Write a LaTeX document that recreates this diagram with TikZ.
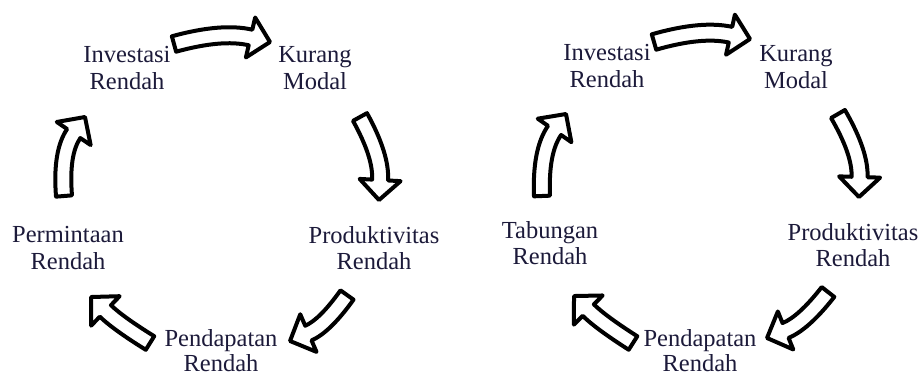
\documentclass[tikz,border=0pt]{standalone}
\usepackage{fontspec}
\setmainfont{Liberation Serif}
\usetikzlibrary{calc}
\definecolor{txt}{RGB}{28,26,58}
\tikzset{
  lbl/.style={align=center, inner sep=0pt, text=txt, font=\fontsize{24.5}{26.5}\selectfont},
  lowlbl/.style={lbl, font=\fontsize{24.5}{25}\selectfont},
  barrow/.style={draw=black, fill=white, line width=4pt, line join=round},
}
\def\aw{8}\def\ahw{20.5}\def\ahl{20}
% block arrow from coordinate #1 (tail centre) to coordinate #2 (tip), bulge #3 (outer side = left of travel)
\newcommand\blockarrow[3]{%
  \pgfpointdiff{\pgfpointanchor{#1}{center}}{\pgfpointanchor{#2}{center}}%
  \pgfgetlastxy{\bax}{\bay}%
  \pgfmathsetmacro\bang{atan2(\bay,\bax)}%
  \pgfmathsetmacro\blen{veclen(\bax,\bay)}%
  \pgfmathsetmacro\balp{2*atan(2*#3/\blen)}%
  \pgfmathsetmacro\bca{cos(\balp)}%
  \pgfmathsetmacro\bsa{sin(\balp)}%
  \pgfmathsetmacro\bex{\blen-\ahl*\bca}%
  \pgfmathsetmacro\bey{-\ahl*\bsa}%
  \pgfmathsetmacro\bk{(\bex/\bca+\ahl)/2}%
  \pgfmathsetmacro\bkx{\bk*\bca}%
  \pgfmathsetmacro\bky{-\bk*\bsa}%
  \pgfmathsetmacro\bkw{\aw/\bca}%
  % outer edge
  \pgfmathsetmacro\qsox{-\aw*\bsa}\pgfmathsetmacro\qsoy{-\aw*\bca}%
  \pgfmathsetmacro\qkox{\bkx}\pgfmathsetmacro\qkoy{\bky-\bkw}%
  \pgfmathsetmacro\qeox{\bex+\aw*\bsa}\pgfmathsetmacro\qeoy{\bey-\aw*\bca}%
  % inner edge
  \pgfmathsetmacro\qsix{\aw*\bsa}\pgfmathsetmacro\qsiy{\aw*\bca}%
  \pgfmathsetmacro\qkix{\bkx}\pgfmathsetmacro\qkiy{\bky+\bkw}%
  \pgfmathsetmacro\qeix{\bex-\aw*\bsa}\pgfmathsetmacro\qeiy{\bey+\aw*\bca}%
  % cubic controls
  \pgfmathsetmacro\qcax{\qsox+2/3*(\qkox-\qsox)}\pgfmathsetmacro\qcay{\qsoy+2/3*(\qkoy-\qsoy)}%
  \pgfmathsetmacro\qcbx{\qeox+2/3*(\qkox-\qeox)}\pgfmathsetmacro\qcby{\qeoy+2/3*(\qkoy-\qeoy)}%
  \pgfmathsetmacro\qccx{\qeix+2/3*(\qkix-\qeix)}\pgfmathsetmacro\qccy{\qeiy+2/3*(\qkiy-\qeiy)}%
  \pgfmathsetmacro\qcdx{\qsix+2/3*(\qkix-\qsix)}\pgfmathsetmacro\qcdy{\qsiy+2/3*(\qkiy-\qsiy)}%
  % head corners
  \pgfmathsetmacro\qhox{\bex+\ahw*\bsa}\pgfmathsetmacro\qhoy{\bey-\ahw*\bca}%
  \pgfmathsetmacro\qhix{\bex-\ahw*\bsa}\pgfmathsetmacro\qhiy{\bey+\ahw*\bca}%
  \begin{scope}[shift={(#1)},rotate=\bang]
    \draw[barrow] (\qsix,\qsiy) -- (\qsox,\qsoy)
      .. controls (\qcax,\qcay) and (\qcbx,\qcby) .. (\qeox,\qeoy)
      -- (\qhox,\qhoy) -- (\blen,0) -- (\qhix,\qhiy) -- (\qeix,\qeiy)
      .. controls (\qccx,\qccy) and (\qcdx,\qcdy) .. (\qsix,\qsiy) -- cycle;
  \end{scope}}
\begin{document}
\begin{tikzpicture}[x=1pt,y=-1pt]
\useasboundingbox (0,0) rectangle (920,378);
\fill[white] (0,0) rectangle (920,378);
% ---------- left cycle ----------
\node[lbl] (inv1) at (127,68) {Investasi\\Rendah};
\node[lbl] (kur1) at (315,68) {Kurang\\Modal};
\node[lbl] (pro1) at (374,248) {Produktivitas\\Rendah};
\node[lowlbl] (pen1) at (221,351) {Pendapatan\\Rendah};
\node[lbl] (per1) at (68,248) {Permintaan\\Rendah};
\coordinate (a1s) at (174,44);  \coordinate (a1e) at (270,42);
\coordinate (a2s) at (360,117); \coordinate (a2e) at (379,200);
\coordinate (a3s) at (347,295); \coordinate (a3e) at (290,341);
\coordinate (a4s) at (150,343); \coordinate (a4e) at (91,297);
\coordinate (a5s) at (64,196);  \coordinate (a5e) at (85,117);
\blockarrow{a1s}{a1e}{6}
\blockarrow{a2s}{a2e}{6}
\blockarrow{a3s}{a3e}{5}
\blockarrow{a4s}{a4e}{2}
\blockarrow{a5s}{a5e}{7}
% ---------- right cycle ----------
\node[lbl] (inv2) at (607,66) {Investasi\\Rendah};
\node[lbl] (kur2) at (796,67) {Kurang\\Modal};
\node[lbl] (pro2) at (853,245) {Produktivitas\\Rendah};
\node[lowlbl] (pen2) at (700,351) {Pendapatan\\Rendah};
\node[lbl] (tab2) at (550,243) {Tabungan\\Rendah};
\coordinate (b1s) at (654,42);  \coordinate (b1e) at (750,39);
\coordinate (b2s) at (838,114); \coordinate (b2e) at (859,197);
\coordinate (b3s) at (828,292); \coordinate (b3e) at (767,338);
\coordinate (b4s) at (633,343); \coordinate (b4e) at (574,296);
\coordinate (b5s) at (542,196); \coordinate (b5e) at (566,114);
\blockarrow{b1s}{b1e}{6}
\blockarrow{b2s}{b2e}{6}
\blockarrow{b3s}{b3e}{5}
\blockarrow{b4s}{b4e}{2}
\blockarrow{b5s}{b5e}{7}
\end{tikzpicture}
\end{document}
